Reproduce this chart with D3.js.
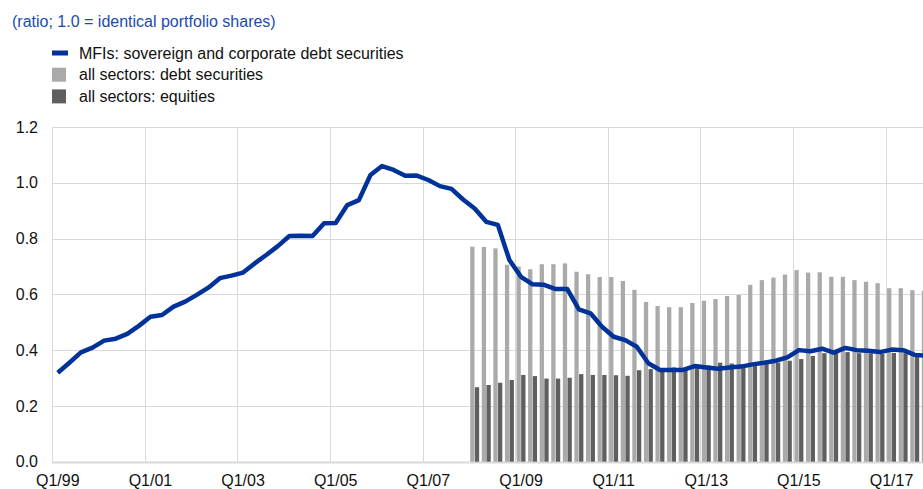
<!DOCTYPE html>
<html>
<head>
<meta charset="utf-8">
<script src="https://cdn.jsdelivr.net/npm/d3@7"></script>
<style>
  body { margin: 0; background: #fff; }
  svg { display: block; font-family: "Liberation Sans", Arial, sans-serif; }
</style>
</head>
<body>
<svg id="chart" width="923" height="489"></svg>
<script>
// quarters Q1/99 .. Q4/17
const years = d3.range(1999, 2018);
const quarters = [];
years.forEach(y => {
    for (let q = 1; q <= 4; q++) quarters.push(`Q${q}/${String(y).slice(2)}`);
});

const tickLabels = ['Q1/99', 'Q1/01', 'Q1/03', 'Q1/05', 'Q1/07', 'Q1/09', 'Q1/11', 'Q1/13', 'Q1/15', 'Q1/17'];
const yTicks = [0, 0.2, 0.4, 0.6, 0.8, 1.0, 1.2];

// MFIs: sovereign and corporate debt securities (Q1/99 - Q4/17)
const mfiDebt = [
    0.319, 0.355, 0.392, 0.409, 0.434, 0.441, 0.458, 0.487, 0.520, 0.526,
    0.556, 0.574, 0.598, 0.624, 0.658, 0.667, 0.678, 0.711, 0.741, 0.773,
    0.809, 0.810, 0.809, 0.855, 0.856, 0.920, 0.938, 1.028, 1.060, 1.046,
    1.025, 1.026, 1.010, 0.988, 0.978, 0.940, 0.908, 0.860, 0.849, 0.723,
    0.663, 0.636, 0.634, 0.619, 0.619, 0.546, 0.532, 0.484, 0.448, 0.436,
    0.412, 0.353, 0.329, 0.329, 0.329, 0.343, 0.338, 0.333, 0.338, 0.341,
    0.349, 0.355, 0.362, 0.374, 0.400, 0.396, 0.405, 0.391, 0.408, 0.400,
    0.398, 0.393, 0.402, 0.400, 0.383, 0.380
];

// all sectors, from Q1/08
const barStart = 'Q1/08';
const allDebt = [
    0.771, 0.770, 0.765, 0.706, 0.700, 0.690, 0.708, 0.708, 0.711, 0.681,
    0.672, 0.662, 0.662, 0.648, 0.616, 0.573, 0.558, 0.554, 0.554, 0.569,
    0.577, 0.583, 0.594, 0.598, 0.634, 0.651, 0.660, 0.671, 0.687, 0.678,
    0.679, 0.663, 0.663, 0.651, 0.645, 0.640, 0.622, 0.622, 0.615, 0.612
];
const allEquity = [
    0.267, 0.275, 0.283, 0.293, 0.311, 0.307, 0.298, 0.298, 0.301, 0.314,
    0.311, 0.311, 0.310, 0.308, 0.328, 0.332, 0.330, 0.338, 0.335, 0.345,
    0.345, 0.355, 0.352, 0.350, 0.348, 0.350, 0.355, 0.362, 0.368, 0.379,
    0.389, 0.390, 0.393, 0.389, 0.389, 0.387, 0.390, 0.389, 0.380, 0.380
];

const blue = '#003299';
const titleBlue = '#1c4bb0';
const textColor = '#111';
const lightGrey = '#aaaaaa';
const darkGrey = '#5f5f5f';
const gridColor = '#d9d9d9';

const svg = d3.select('#chart');
const plotLeft = 52, plotTop = 127, plotBottom = 461.7;
const qw = 11.58;

const x = d3.scaleBand()
    .domain(quarters)
    .range([plotLeft, plotLeft + quarters.length * qw])
    .padding(0);

const y = d3.scaleLinear()
    .domain([0, 1.2])
    .range([plotBottom, plotTop]);

// two bars side by side inside each quarter
const sub = d3.scaleBand()
    .domain(['debt', 'equity'])
    .range([0, x.bandwidth()])
    .paddingInner(0.085)
    .paddingOuter(0.28);

// title
svg.append('text')
    .attr('x', 12)
    .attr('y', 26.5)
    .attr('fill', titleBlue)
    .style('font-size', '16px')
    .text('(ratio; 1.0 = identical portfolio shares)');

// legend
const legendItems = [
    { label: 'MFIs: sovereign and corporate debt securities', type: 'line', color: blue },
    { label: 'all sectors: debt securities', type: 'box', color: lightGrey },
    { label: 'all sectors: equities', type: 'box', color: darkGrey }
];
const legend = svg.append('g').attr('transform', 'translate(52, 53)');
legendItems.forEach((d, i) => {
    const g = legend.append('g').attr('transform', `translate(0, ${i * 21.7})`);
    if (d.type === 'line') {
        g.append('rect').attr('x', 0).attr('y', -2.5).attr('width', 16).attr('height', 5).attr('fill', d.color);
    } else {
        g.append('rect').attr('x', 0).attr('y', -7).attr('width', 14).attr('height', 14).attr('fill', d.color);
    }
    g.append('text')
        .attr('x', 27)
        .attr('y', 0)
        .attr('dy', '0.35em')
        .attr('fill', textColor)
        .style('font-size', '16px')
        .text(d.label);
});

// grid
const grid = svg.append('g');
grid.selectAll('line.h')
    .data(yTicks)
    .enter()
    .append('line')
    .attr('x1', plotLeft)
    .attr('x2', 923)
    .attr('y1', d => Math.round(y(d)) + 0.5)
    .attr('y2', d => Math.round(y(d)) + 0.5)
    .attr('stroke', gridColor)
    .attr('stroke-width', d => d === 0 ? 2 : 1);

grid.selectAll('line.v')
    .data(tickLabels)
    .enter()
    .append('line')
    .attr('x1', d => Math.round(x(d)) + 0.5)
    .attr('x2', d => Math.round(x(d)) + 0.5)
    .attr('y1', plotTop)
    .attr('y2', plotBottom)
    .attr('stroke', gridColor)
    .attr('stroke-width', 1);

// y labels
svg.append('g')
    .selectAll('text')
    .data(yTicks)
    .enter()
    .append('text')
    .attr('x', 38)
    .attr('y', d => y(d))
    .attr('dy', '0.35em')
    .attr('text-anchor', 'end')
    .attr('fill', textColor)
    .style('font-size', '16px')
    .text(d => d.toFixed(1));

// x labels
svg.append('g')
    .selectAll('text')
    .data(tickLabels)
    .enter()
    .append('text')
    .attr('x', d => x(d) + x.bandwidth() / 2)
    .attr('y', 486)
    .attr('text-anchor', 'middle')
    .attr('fill', textColor)
    .style('font-size', '16px')
    .text(d => d);

// bars
const i0 = quarters.indexOf(barStart);
const barData = allDebt.map((v, i) => ({ q: quarters[i0 + i], debt: v, equity: allEquity[i] }));
const bars = svg.append('g');
bars.selectAll('rect.debt')
    .data(barData)
    .enter()
    .append('rect')
    .attr('x', d => x(d.q) + sub('debt'))
    .attr('y', d => y(d.debt))
    .attr('width', sub.bandwidth())
    .attr('height', d => plotBottom - y(d.debt))
    .attr('fill', lightGrey);
bars.selectAll('rect.equity')
    .data(barData)
    .enter()
    .append('rect')
    .attr('x', d => x(d.q) + sub('equity'))
    .attr('y', d => y(d.equity))
    .attr('width', sub.bandwidth())
    .attr('height', d => plotBottom - y(d.equity))
    .attr('fill', darkGrey);

// line
const line = d3.line()
    .x((d, i) => x(quarters[i]) + x.bandwidth() / 2)
    .y(d => y(d));

svg.append('path')
    .datum(mfiDebt)
    .attr('d', line)
    .attr('fill', 'none')
    .attr('stroke', blue)
    .attr('stroke-width', 4.5)
    .attr('stroke-linejoin', 'round');
</script>
</body>
</html>
